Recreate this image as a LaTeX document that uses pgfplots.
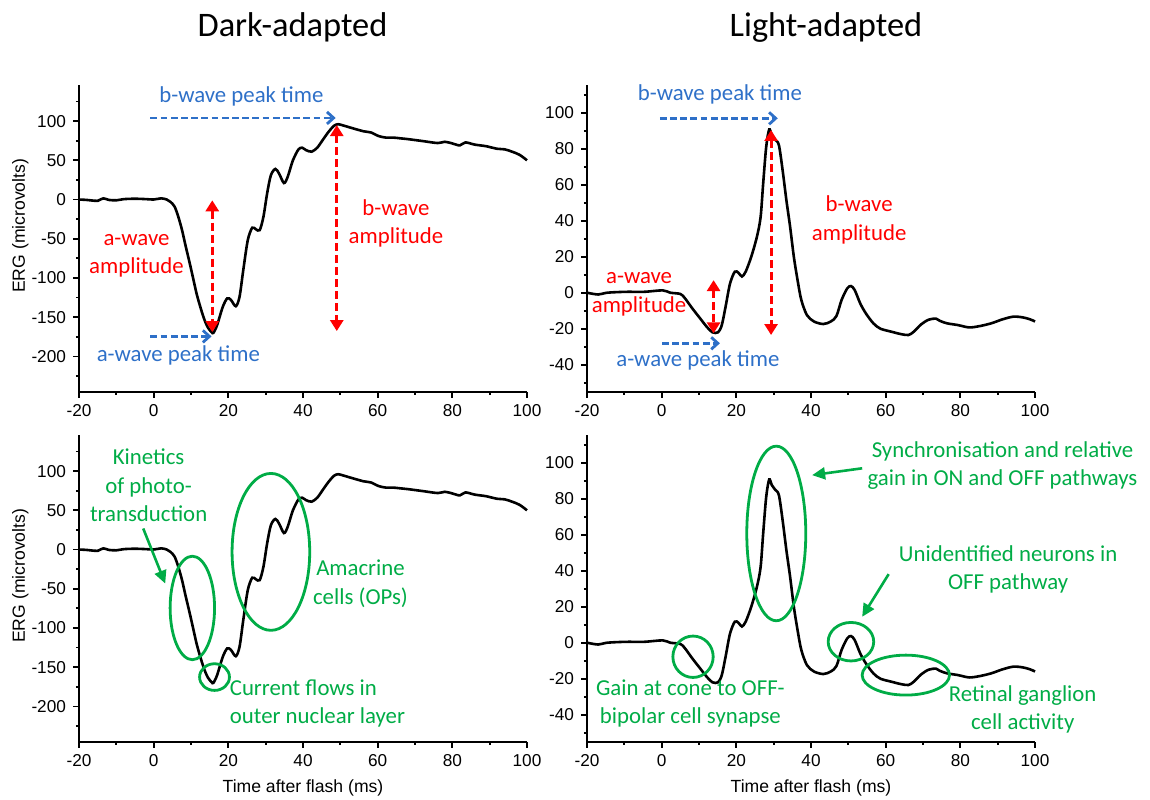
\documentclass[border=0pt]{standalone}
\usepackage{fontspec}
\setmainfont{Carlito}
\newfontfamily\arialfont{Liberation Sans}
\usepackage{pgfplots}
\usepackage{pgfplotstable}
\pgfplotsset{compat=1.18}
\usetikzlibrary{arrows.meta}
\definecolor{ergblue}{RGB}{46,112,200}
\definecolor{ergred}{RGB}{255,0,0}
\definecolor{erggreen}{RGB}{0,172,70}

\pgfplotstableread{
t v
-20 0
-18 -0.5
-16 -1.5
-15 -1.7
-13.5 1.5
-12 -0.5
-10 -1
-8 0.5
-5 1
-2 0.5
0 0
2 1.5
3.5 0
4.5 -3
5.6 -9
6.6 -22
7.6 -39
8.6 -60
9.6 -80
10.6 -101
11.5 -120
12.5 -137
13.5 -152
14.5 -163
15.5 -169
16 -170
17 -160
18.5 -137
19.7 -126
20.7 -128
22 -136
23 -124
24 -90
25.2 -52
26.4 -36
27.4 -38
28.4 -39
29.4 -22
30.4 8
31.4 31
32.6 39
33.6 33
34.9 21
35.9 29
37.3 50
38.8 64
39.8 66
40.8 63
42.3 61
43.8 66
45.3 76
46.8 86
48.3 94
49.4 96
50.7 94.5
53.2 91
56.2 87
58.2 85.5
60.2 81
62.1 79
64.1 79
66.1 78
68.1 77
72.1 74.5
76.1 72
78 73.6
80 71.5
82 69
83.5 72.8
86 70
89 68
92 64.7
94 64
96 61
98 57
100 50
}\darkdata

\pgfplotstableread{
t v
-20 0
-17 -1
-14.6 0
-9.6 0.5
-4.7 0.5
0.3 1.3
2.3 0
5 -0.7
6.2 -3
8.2 -8.7
10.2 -14
12.1 -19
13.6 -22
15.1 -22
16.1 -18
17.1 -8
18.3 5
19.6 11.7
20.6 11
21.5 9
22.5 11.7
24 20
25.5 31
26.5 42
27.2 61
28 81
28.8 90.7
29.5 87.6
30.4 85
31.4 82
32.4 68
33.4 51.5
34.4 36.7
35.4 20
36.4 7
37.4 -4
38.9 -12.4
40.8 -16
43.3 -17.4
45.3 -16
46.8 -13
48.2 -4
49.7 2.4
50.7 3.7
51.7 1.5
53.2 -6
54.7 -11.5
56.7 -17
58.6 -20
61.6 -21.7
64.1 -23
66.1 -23.5
67.5 -21.7
69.5 -17.6
71.5 -15
73.5 -14.4
74.5 -15.6
76.4 -17
79.4 -18
82.4 -19.3
85.3 -18.5
88.3 -17
91.3 -14.8
94.2 -13.3
96.7 -13.7
98.7 -14.8
100 -16
}\lightdata

\pgfplotsset{
  ergaxis/.style={
    scale only axis, width=224pt, height=153.35pt, anchor=south west,
    axis lines*=left, axis line style={line width=1.1pt},
    xmin=-20, xmax=100, xtick={-20,0,...,100}, minor xtick={-10,10,...,90},
    tick align=outside, major tick length=3pt, minor tick length=1.6pt,
    every tick/.style={black, line width=0.9pt},
    tick label style={font=\arialfont\fontsize{8.6}{9}\selectfont},
    /pgf/number format/assume math mode=true,
    clip=false,
    every axis y label/.style={at={(axis description cs:-0.131,0.541)}, rotate=90, anchor=center, font=\arialfont\fontsize{8.8}{10}\selectfont},
    every axis x label/.style={at={(axis description cs:0.5,0)}, yshift=-23.3pt, anchor=center, font=\arialfont\fontsize{8.8}{10}\selectfont},
  },
  darkaxis/.style={ergaxis, ymin=-245, ymax=146, ytick={-200,-150,...,100}, minor ytick={-225,-175,...,125}},
  lightaxis/.style={ergaxis, ymin=-55, ymax=115.4, ytick={-40,-20,...,100}, minor ytick={-50,-30,...,110}},
  erg/.style={black, line width=1.3pt, smooth, no markers},
}
\tikzset{
 ann/.style={font=\fontsize{11.4}{14.2}\selectfont, align=center, inner sep=0pt},
 bluearr/.style={ergblue, line width=1.4pt, dash pattern=on 3.4pt off 1.7pt, -{Straight Barb[length=3.3pt,width=6pt]}},
 redarr/.style={ergred, line width=1.5pt, dash pattern=on 4pt off 2pt, {Triangle[length=5.5pt,width=6.5pt]}-{Triangle[length=5.5pt,width=6.5pt]}},
 greenarr/.style={erggreen, line width=1.3pt, -{Triangle[length=6.5pt,width=6pt]}},
 greenell/.style={erggreen, line width=1.4pt},
}

\begin{document}
\begin{tikzpicture}
\path[use as bounding box] (0,0) rectangle (575pt,399.5pt);

\node[font=\fontsize{17.2}{20}\selectfont, anchor=base] at (146.25pt,381.15pt) {Dark-adapted};
\node[font=\fontsize{17.2}{20}\selectfont, anchor=base] at (413pt,381.15pt) {Light-adapted};

% Panel 1: dark-adapted, parameters
\begin{axis}[darkaxis, at={(39.5pt,203.65pt)}, ylabel={ERG (microvolts)}]
\addplot[erg] table[x=t,y=v] {\darkdata};
\node[ann, text=ergblue] at (axis cs:23.5,132) {b-wave peak time};
\draw[bluearr] (axis cs:-0.85,104) -- (axis cs:48.75,104);
\node[ann, text=ergblue] at (axis cs:6.6,-198.7) {a-wave peak time};
\draw[bluearr] (axis cs:-0.85,-174.5) -- (axis cs:15.5,-174.5);
\draw[redarr] (axis cs:15.7,-1) -- (axis cs:15.7,-169);
\draw[redarr] (axis cs:49.05,94.9) -- (axis cs:49.05,-167.7);
\node[ann, text=ergred] at (axis cs:-4.6,-71.7) {a-wave\\amplitude};
\node[ann, text=ergred] at (axis cs:64.9,-30.2) {b-wave\\amplitude};
\end{axis}

% Panel 2: light-adapted, parameters
\begin{axis}[lightaxis, at={(293.5pt,203.65pt)}]
\addplot[erg] table[x=t,y=v] {\lightdata};
\node[ann, text=ergblue] at (axis cs:15.6,110.4) {b-wave peak time};
\draw[bluearr] (axis cs:-0.5,96.9) -- (axis cs:31.1,96.9);
\node[ann, text=ergblue] at (axis cs:9.7,-37.8) {a-wave peak time};
\draw[bluearr] (axis cs:0.1,-28.1) -- (axis cs:15.6,-28.1);
\draw[redarr] (axis cs:13.9,7) -- (axis cs:13.9,-22.6);
\draw[redarr] (axis cs:29.3,90.4) -- (axis cs:29.3,-23.5);
\node[ann, text=ergred] at (axis cs:-6.05,-0.9) {a-wave\\amplitude};
\node[ann, text=ergred] at (axis cs:52.9,40.4) {b-wave\\amplitude};
\end{axis}

% Panel 3: dark-adapted, cell origins
\begin{axis}[darkaxis, at={(39.5pt,28.65pt)}, ylabel={ERG (microvolts)}, xlabel={Time after flash (ms)}]
\addplot[erg] table[x=t,y=v] {\darkdata};
\node[ann, text=erggreen] at (axis cs:-1.35,82) {Kinetics\\of photo-\\transduction};
\draw[greenarr] (axis cs:-2.8,26.8) -- (axis cs:3.1,-43.4);
\draw[greenell] (axis cs:10.36,-74.5) ellipse [x radius=5.95, y radius=66];
\draw[greenell] (axis cs:16.3,-162.6) ellipse [x radius=4.0, y radius=17];
\draw[greenell] (axis cs:31.4,-3) ellipse [x radius=10.4, y radius=100];
\node[ann, text=erggreen] at (axis cs:55.4,-43.8) {Amacrine\\cells (OPs)};
\node[ann, text=erggreen, align=left, anchor=west] at (axis cs:20.3,-196) {Current flows in\\outer nuclear layer};
\end{axis}

% Panel 4: light-adapted, cell origins
\begin{axis}[lightaxis, at={(293.5pt,28.65pt)}, xlabel={Time after flash (ms)}]
\addplot[erg] table[x=t,y=v] {\lightdata};
\node[ann, text=erggreen] at (axis cs:91.3,98.3) {Synchronisation and relative\\gain in ON and OFF pathways};
\draw[greenarr] (axis cs:53.7,96.9) -- (axis cs:40.3,93.1);
\draw[greenell] (axis cs:30.7,60.7) ellipse [x radius=7.9, y radius=48.5];
\node[ann, text=erggreen] at (axis cs:92.8,40.6) {Unidentified neurons in\\OFF pathway};
\draw[greenarr] (axis cs:60.8,38.1) -- (axis cs:53.7,14.4);
\draw[greenell] (axis cs:50.7,0.56) ellipse [x radius=6.1, y radius=10.7];
\draw[greenell] (axis cs:8.4,-7.8) ellipse [x radius=5.4, y radius=11.5];
\node[ann, text=erggreen] at (axis cs:7.7,-33.9) {Gain at cone to OFF-\\bipolar cell synapse};
\draw[greenell] (axis cs:65.4,-18) ellipse [x radius=11.7, y radius=11.1];
\node[ann, text=erggreen] at (axis cs:96.7,-37.2) {Retinal ganglion\\cell activity};
\end{axis}
\end{tikzpicture}
\end{document}
